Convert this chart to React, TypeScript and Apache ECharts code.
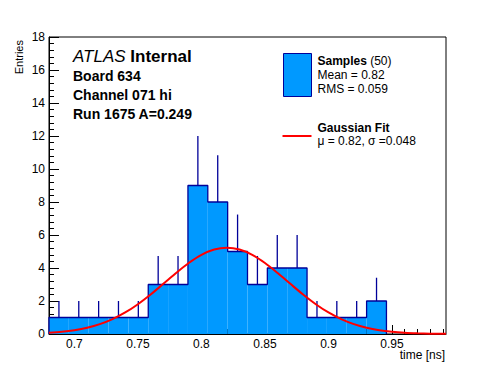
import React, { useEffect, useRef } from "react";
import * as echarts from "echarts";

// ---- data ----
const binStart = 0.68;
const binWidth = 0.015625;
const counts = [1, 1, 1, 1, 1, 3, 3, 9, 8, 5, 3, 4, 4, 1, 1, 1, 2, 0, 0, 0];
const errors = [1, 1, 1, 1, 1, 1.73, 1.73, 3, 2.83, 2.24, 1.73, 2, 2, 1, 1, 1, 1.41, 0, 0, 0];

const fitX = [0.68, 0.69, 0.7, 0.71, 0.72, 0.73, 0.74, 0.75, 0.76, 0.77, 0.78, 0.79, 0.8, 0.81, 0.82,
  0.83, 0.84, 0.85, 0.86, 0.87, 0.88, 0.89, 0.9, 0.91, 0.92, 0.93, 0.94, 0.95, 0.96, 0.97, 0.98, 0.99, 0.9925];
const fitY = [0.074, 0.134, 0.23, 0.378, 0.597, 0.902, 1.304, 1.806, 2.394, 3.04, 3.696, 4.302, 4.795, 5.118, 5.23,
  5.118, 4.795, 4.302, 3.696, 3.04, 2.394, 1.806, 1.304, 0.902, 0.597, 0.378, 0.23, 0.134, 0.074, 0.04, 0.02, 0.01, 0.008];

const xMajorTicks = [0.7, 0.75, 0.8, 0.85, 0.9, 0.95];
const xMinorTicks = [0.68, 0.69, 0.7, 0.71, 0.72, 0.73, 0.74, 0.75, 0.76, 0.77, 0.78, 0.79, 0.8, 0.81, 0.82,
  0.83, 0.84, 0.85, 0.86, 0.87, 0.88, 0.89, 0.9, 0.91, 0.92, 0.93, 0.94, 0.95, 0.96, 0.97, 0.98, 0.99];
const xMin = 0.68;
const xMax = 0.9925;
const yMax = 18;

const FONT = "'Liberation Sans', Arial, Helvetica, sans-serif";
const FILL = "#0099ff";
const EDGE = "#000099";

export default function App() {
  const ref = useRef<HTMLDivElement>(null);
  useEffect(() => {
    if (!ref.current) return;
    const chart = echarts.init(ref.current, null, { renderer: "svg" });

    const bins = counts.map((c, i) => [binStart + i * binWidth, binStart + (i + 1) * binWidth, c, errors[i]]);
    const lastNonZero = counts.reduce((acc, c, i) => (c > 0 ? i : acc), 0);
    const outline: number[][] = [[binStart, 0]];
    for (let i = 0; i <= lastNonZero; i++) {
      outline.push([bins[i][0], counts[i]]);
      outline.push([bins[i][1], counts[i]]);
    }
    outline.push([bins[lastNonZero][1], 0]);

    const option: any = {
      animation: false,
      backgroundColor: "#ffffff",
      grid: {
        left: 49, right: 50, top: 37, bottom: 38,
        show: true, borderColor: "#000", borderWidth: 1, backgroundColor: "transparent",
      },
      xAxis: [
        {
          type: "value", min: xMin, max: xMax, position: "bottom",
          axisLine: { show: true, onZero: false, lineStyle: { color: "#000", width: 1 } },
          axisTick: { show: true, inside: true, length: 9, customValues: xMajorTicks, lineStyle: { color: "#000" } },
          axisLabel: {
            show: true, customValues: xMajorTicks, margin: 4, color: "#000",
            fontFamily: FONT, fontSize: 12,
            formatter: (v: number) => String(+v.toFixed(3)),
          },
          splitLine: { show: false },
        },
        {
          type: "value", min: xMin, max: xMax, position: "bottom",
          axisLine: { show: false },
          axisTick: { show: true, inside: true, length: 5, customValues: xMinorTicks, lineStyle: { color: "#000" } },
          axisLabel: { show: false },
          splitLine: { show: false },
        },
      ],
      yAxis: {
        type: "value", min: 0, max: yMax, interval: 2,
        axisLine: { show: true, lineStyle: { color: "#000", width: 1 } },
        axisTick: { show: true, inside: true, length: 10, lineStyle: { color: "#000" } },
        minorTick: { show: true, splitNumber: 5, length: 5, lineStyle: { color: "#000" } },
        axisLabel: { color: "#000", fontFamily: FONT, fontSize: 12, margin: 4 },
        splitLine: { show: false },
        minorSplitLine: { show: false },
      },
      series: [
        {
          type: "custom",
          xAxisIndex: 0,
          data: bins,
          clip: true,
          z: 1,
          renderItem: (params: any, api: any) => {
            const c = api.value(2);
            if (c <= 0) return null;
            const p0 = api.coord([api.value(0), c]);
            const p1 = api.coord([api.value(1), 0]);
            return {
              type: "rect",
              shape: { x: p0[0], y: p0[1], width: p1[0] - p0[0], height: p1[1] - p0[1] },
              style: { fill: FILL, stroke: "none" },
            };
          },
        },
        {
          type: "line",
          xAxisIndex: 0,
          data: outline,
          symbol: "none",
          z: 2,
          lineStyle: { color: EDGE, width: 1.3 },
        },
        {
          type: "custom",
          xAxisIndex: 0,
          data: bins,
          z: 3,
          renderItem: (params: any, api: any) => {
            const c = api.value(2);
            const e = api.value(3);
            if (c <= 0) return null;
            const xc = (api.value(0) + api.value(1)) / 2;
            const a = api.coord([xc, c]);
            const b = api.coord([xc, c + e]);
            return {
              type: "line",
              shape: { x1: a[0], y1: a[1], x2: b[0], y2: b[1] },
              style: { stroke: EDGE, lineWidth: 1.3 },
            };
          },
        },
        {
          type: "line",
          xAxisIndex: 0,
          data: fitX.map((x, i) => [x, fitY[i]]),
          symbol: "none",
          smooth: 0.3,
          z: 5,
          lineStyle: { color: "#ff0000", width: 2 },
        },
      ],
      graphic: [
        {
          type: "text", x: 18.5, y: 40, rotation: Math.PI / 2,
          style: { text: "Entries", fontFamily: FONT, fontSize: 11, fill: "#000", align: "right", verticalAlign: "middle" },
        },
        {
          type: "text", x: 445, y: 355,
          style: { text: "time [ns]", fontFamily: FONT, fontSize: 12, fill: "#000", align: "right", verticalAlign: "middle" },
        },
        {
          type: "text", x: 73, y: 56.8,
          style: {
            text: "{i|ATLAS} {b|Internal}", fontFamily: FONT, fontSize: 17, fill: "#000", verticalAlign: "middle",
            rich: {
              i: { fontStyle: "italic", fontFamily: FONT, fontSize: 17 },
              b: { fontWeight: "bold", fontFamily: FONT, fontSize: 17 },
            },
          },
        },
        {
          type: "text", x: 73, y: 75.8,
          style: { text: "Board 634", fontFamily: FONT, fontSize: 14, fontWeight: "bold", fill: "#000", verticalAlign: "middle" },
        },
        {
          type: "text", x: 73, y: 94.6,
          style: { text: "Channel 071 hi", fontFamily: FONT, fontSize: 14, fontWeight: "bold", fill: "#000", verticalAlign: "middle" },
        },
        {
          type: "text", x: 73, y: 114,
          style: { text: "Run 1675 A=0.249", fontFamily: FONT, fontSize: 14, fontWeight: "bold", fill: "#000", verticalAlign: "middle" },
        },
        {
          type: "rect", shape: { x: 283.5, y: 53.5, width: 28, height: 43 },
          style: { fill: FILL, stroke: EDGE, lineWidth: 1 },
        },
        {
          type: "text", x: 317.5, y: 60.8,
          style: {
            text: "{b|Samples} (50)", fontFamily: FONT, fontSize: 12, fill: "#000", verticalAlign: "middle",
            rich: { b: { fontWeight: "bold", fontFamily: FONT, fontSize: 12 } },
          },
        },
        {
          type: "text", x: 317.5, y: 75.1,
          style: { text: "Mean = 0.82", fontFamily: FONT, fontSize: 12, fill: "#000", verticalAlign: "middle" },
        },
        {
          type: "text", x: 317.5, y: 89.1,
          style: { text: "RMS = 0.059", fontFamily: FONT, fontSize: 12, fill: "#000", verticalAlign: "middle" },
        },
        {
          type: "line", shape: { x1: 282.5, y1: 136, x2: 311.5, y2: 136 },
          style: { stroke: "#ff0000", lineWidth: 2 },
        },
        {
          type: "text", x: 317.5, y: 128.2,
          style: { text: "Gaussian Fit", fontFamily: FONT, fontSize: 12, fontWeight: "bold", fill: "#000", verticalAlign: "middle" },
        },
        {
          type: "text", x: 317.5, y: 141.2,
          style: { text: "μ = 0.82, σ =0.048", fontFamily: FONT, fontSize: 12, fill: "#000", verticalAlign: "middle" },
        },
      ],
    };
    chart.setOption(option);
    return () => chart.dispose();
  }, []);
  return (
    <div
      ref={ref}
      style={{ position: "fixed", left: 0, top: 0, width: 496, height: 372, background: "#fff" }}
    />
  );
}
